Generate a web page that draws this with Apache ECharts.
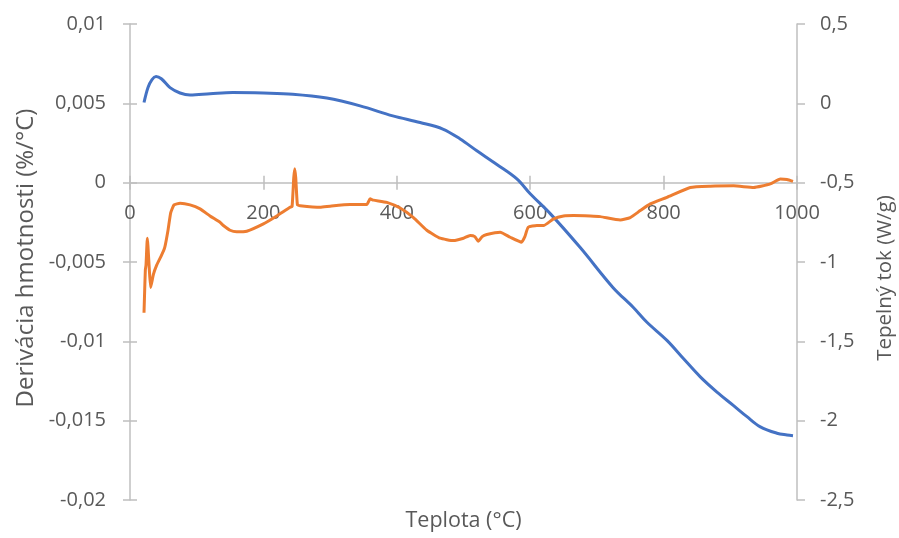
<!DOCTYPE html>
<html>
<head>
<meta charset="utf-8">
<script src="https://cdn.jsdelivr.net/npm/echarts@6/dist/echarts.min.js"></script>
<style>
  html, body { margin: 0; padding: 0; background: #ffffff; }
  #chart { width: 899px; height: 538px; }
</style>
</head>
<body>
<div id="chart"></div>
<script>
// Temperature (°C) and mass derivative (%/°C) – DTG curve, left axis
const dtgTemp = [21, 22, 23, 24, 26, 29, 31, 35, 40, 47, 52, 57, 61, 66, 75, 90, 105, 120, 135, 140, 150, 160, 175, 200, 220, 240, 243, 245.5, 247, 248.5, 251, 255, 285, 300, 330, 355, 360, 365, 385, 405, 425, 445, 465, 485, 500, 510, 517, 522, 528, 535, 555, 570, 587, 592, 597, 610, 620, 635, 650, 665, 690, 705, 735, 750, 765, 780, 805, 840, 870, 905, 935, 960, 975, 985, 994];
const dtgValues = [-0.0082, -0.0068, -0.0055, -0.0052, -0.0035, -0.0055, -0.0066, -0.0058, -0.0052, -0.0046, -0.0041, -0.0030, -0.0019, -0.0014, -0.0013, -0.0014, -0.00165, -0.0021, -0.0025, -0.0027, -0.0030, -0.0031, -0.00306, -0.0026, -0.0021, -0.00155, -0.0015, 0.0003, 0.00088, 0.0003, -0.0014, -0.00145, -0.00155, -0.00148, -0.00138, -0.00138, -0.00102, -0.0011, -0.00124, -0.0016, -0.0022, -0.0030, -0.0035, -0.00365, -0.0035, -0.00333, -0.0034, -0.00369, -0.0034, -0.00327, -0.00312, -0.00344, -0.00375, -0.0034, -0.00281, -0.0027, -0.0027, -0.00228, -0.0021, -0.00207, -0.0021, -0.00214, -0.00235, -0.0022, -0.00176, -0.00134, -0.00092, -0.0003, -0.00022, -0.0002, -0.0003, -0.00008, 0.00023, 0.0002, 0.00008];

// Temperature (°C) and heat flow (W/g) – right axis
const hfTemp = [21, 27, 33, 39, 47, 60, 75, 90, 120, 154, 200, 244, 295, 345, 394, 435, 469, 495, 520, 550, 580, 600, 630, 675, 724, 754, 775, 805, 830, 855, 880, 904, 925, 945, 970, 985, 994];
const hfValues = [0.005, 0.10, 0.15, 0.169, 0.155, 0.099, 0.065, 0.052, 0.06, 0.068, 0.065, 0.058, 0.033, -0.016, -0.079, -0.121, -0.162, -0.225, -0.299, -0.385, -0.476, -0.57, -0.695, -0.909, -1.16, -1.284, -1.38, -1.494, -1.61, -1.724, -1.82, -1.902, -1.975, -2.039, -2.079, -2.09, -2.095];

// Axis ranges and ticks
const xTicks = [0, 200, 400, 600, 800, 1000];
const leftTicks = [-0.02, -0.015, -0.01, -0.005, 0, 0.005, 0.01];
const rightTicks = [-2.5, -2, -1.5, -1, -0.5, 0, 0.5];

const FONT = '"Open Sans", sans-serif';
const TEXT = '#595959';
const AXIS = '#bfbfbf';

const GRID_TOP = 24;
const GRID_BOTTOM = 38;
const PLOT_H = 538 - GRID_TOP - GRID_BOTTOM;
// the temperature axis crosses the left axis at 0 %/°C
const leftMin = leftTicks[0];
const leftMax = leftTicks[leftTicks.length - 1];
const zeroShift = -PLOT_H * (0 - leftMin) / (leftMax - leftMin);

const comma = (v, d) => String(+v.toFixed(d)).replace('.', ',');

const chart = echarts.init(document.getElementById('chart'), null, { renderer: 'canvas' });

const option = {
  animation: false,
  backgroundColor: '#ffffff',
  textStyle: { fontFamily: FONT },
  grid: {
    left: 130, right: 102, top: GRID_TOP, bottom: GRID_BOTTOM,
    containLabel: false,
    outerBoundsMode: 'none'
  },
  xAxis: [
    {
      type: 'value',
      position: 'bottom',
      offset: zeroShift,
      min: xTicks[0], max: xTicks[xTicks.length - 1], interval: 200,
      axisLine: { onZero: false, lineStyle: { color: AXIS, width: 1.5 } },
      axisTick: { show: true, inside: false, length: 7, lineStyle: { color: AXIS, width: 1.5 } },
      axisLabel: { color: TEXT, fontSize: 20, fontFamily: FONT, margin: 21, formatter: v => String(v) },
      splitLine: { show: false }
    },
    {
      // upper half of the crossing tick marks on the temperature axis
      type: 'value',
      position: 'bottom',
      offset: zeroShift,
      min: xTicks[0], max: xTicks[xTicks.length - 1], interval: 200,
      axisLine: { show: false, onZero: false },
      axisTick: { show: true, inside: true, length: 7, lineStyle: { color: AXIS, width: 1.5 } },
      axisLabel: { show: false },
      splitLine: { show: false }
    }
  ],
  yAxis: [
    {
      type: 'value',
      position: 'left',
      min: leftMin, max: leftMax, interval: 0.005,
      name: 'Derivácia hmotnosti (%/°C)',
      nameLocation: 'middle',
      nameGap: 76,
      nameTextStyle: { color: TEXT, fontSize: 24, fontFamily: FONT, padding: [0, 0, 0, 8] },
      axisLine: { show: true, onZero: false, lineStyle: { color: AXIS, width: 1.5 } },
      axisTick: { show: true, inside: false, length: 7, lineStyle: { color: AXIS, width: 1.5 } },
      axisLabel: { color: TEXT, fontSize: 20, fontFamily: FONT, margin: 24, formatter: v => comma(v, 3) },
      splitLine: { show: false }
    },
    {
      type: 'value',
      position: 'right',
      min: rightTicks[0], max: rightTicks[rightTicks.length - 1], interval: 0.5,
      name: 'Tepelný tok (W/g)',
      nameLocation: 'middle',
      nameGap: 78,
      nameTextStyle: { color: TEXT, fontSize: 20.5, fontFamily: FONT, padding: [0, 32, 0, 0] },
      axisLine: { show: true, onZero: false, lineStyle: { color: AXIS, width: 1.5 } },
      axisTick: { show: true, inside: false, length: 8, lineStyle: { color: AXIS, width: 1.5 } },
      axisLabel: { color: TEXT, fontSize: 20, fontFamily: FONT, margin: 23, formatter: v => comma(v, 1) },
      splitLine: { show: false }
    },
    {
      // inner half of the crossing tick marks on the left axis
      type: 'value',
      position: 'left',
      min: leftMin, max: leftMax, interval: 0.005,
      axisLine: { show: false, onZero: false },
      axisTick: { show: true, inside: true, length: 7, lineStyle: { color: AXIS, width: 1.5 } },
      axisLabel: { show: false },
      splitLine: { show: false }
    }
  ],
  graphic: [
    {
      type: 'text',
      x: 463.5,
      y: 521,
      style: {
        text: 'Teplota (°C)',
        fill: TEXT,
        font: '21.5px ' + FONT,
        textAlign: 'center',
        textVerticalAlign: 'middle'
      }
    }
  ],
  series: [
    {
      name: 'Tepelný tok',
      type: 'line',
      xAxisIndex: 0,
      yAxisIndex: 1,
      data: hfTemp.map((t, i) => [t, hfValues[i]]),
      smooth: 0.35,
      showSymbol: false,
      lineStyle: { color: '#4472c4', width: 3 },
      z: 3
    },
    {
      name: 'Derivácia hmotnosti',
      type: 'line',
      xAxisIndex: 0,
      yAxisIndex: 0,
      data: dtgTemp.map((t, i) => [t, dtgValues[i]]),
      smooth: 0.15,
      showSymbol: false,
      lineStyle: { color: '#ed7d31', width: 3 },
      z: 4
    }
  ]
};

chart.setOption(option);
</script>
</body>
</html>
